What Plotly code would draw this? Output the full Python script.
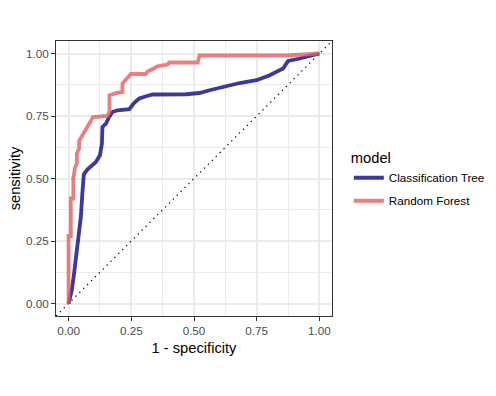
import plotly.graph_objects as go

# ---- data ----
ct_fpr = [0.0, 0.013, 0.022, 0.031, 0.039, 0.049, 0.055, 0.061, 0.075, 0.109, 0.125, 0.133,
          0.135, 0.149, 0.162, 0.175, 0.195, 0.242, 0.262, 0.282, 0.309, 0.335, 0.469, 0.522,
          0.562, 0.622, 0.682, 0.749, 0.802, 0.855, 0.866, 0.875, 0.922, 0.962, 0.989, 1.0]
ct_tpr = [0.0, 0.053, 0.12, 0.186, 0.266, 0.346, 0.44, 0.517, 0.536, 0.566, 0.593, 0.64,
          0.706, 0.72, 0.746, 0.766, 0.773, 0.777, 0.803, 0.82, 0.829, 0.836, 0.837, 0.842,
          0.853, 0.869, 0.882, 0.893, 0.913, 0.94, 0.96, 0.97, 0.98, 0.989, 0.997, 1.0]

rf_fpr = [0.0, 0.0, 0.009, 0.009, 0.019, 0.019, 0.025, 0.033, 0.033, 0.042, 0.042, 0.053,
          0.062, 0.071, 0.082, 0.091, 0.098, 0.155, 0.163, 0.163, 0.189, 0.215, 0.215, 0.226,
          0.242, 0.249, 0.306, 0.315, 0.335, 0.355, 0.395, 0.402, 0.515, 0.522, 0.875, 0.92,
          0.96, 0.99, 1.0]
rf_tpr = [0.0, 0.27, 0.27, 0.42, 0.42, 0.5, 0.54, 0.56, 0.6, 0.62, 0.65, 0.67,
          0.687, 0.704, 0.717, 0.736, 0.746, 0.75, 0.766, 0.833, 0.842, 0.846, 0.88, 0.893,
          0.909, 0.918, 0.918, 0.928, 0.938, 0.949, 0.956, 0.964, 0.964, 0.992, 0.992, 0.994,
          0.996, 1.0, 1.0]

diag = [-0.05, 1.05]
tick_vals = [0, 0.25, 0.5, 0.75, 1.0]
tick_text = ["0.00", "0.25", "0.50", "0.75", "1.00"]

FONT = "Liberation Sans, Arial, sans-serif"

fig = go.Figure()
fig.add_trace(go.Scatter(x=diag, y=diag, mode="lines", showlegend=False, hoverinfo="skip",
                         line=dict(color="black", width=1.2, dash="1.3px,4.2px")))
fig.add_trace(go.Scatter(x=ct_fpr, y=ct_tpr, mode="lines", name="Classification Tree",
                         legendgroup="ct",
                         line=dict(color="rgba(10,8,130,0.8)", width=3.8)))
fig.add_trace(go.Scatter(x=rf_fpr, y=rf_tpr, mode="lines", name="Random Forest",
                         legendgroup="rf",
                         line=dict(color="rgba(226,96,96,0.8)", width=3.8)))

axis_common = dict(
    range=[-0.05, 1.05], tickvals=tick_vals, ticktext=tick_text,
    showgrid=True, gridcolor="#EBEBEB", gridwidth=1.6,
    minor=dict(dtick=0.125, tick0=0.125, showgrid=True, gridcolor="#EBEBEB", gridwidth=0.9, ticks=""),
    zeroline=False, showline=True, mirror=True, linecolor="#333333", linewidth=1.3,
    ticks="outside", ticklen=3.7, tickwidth=1.1, tickcolor="#333333",
    tickfont=dict(family=FONT, size=11.7, color="#4D4D4D"),
)

fig.update_layout(
    width=496, height=396,
    margin=dict(l=56, r=164, t=41, b=80, autoexpand=False),
    paper_bgcolor="white", plot_bgcolor="white",
    font=dict(family=FONT, color="black"),
    xaxis=dict(**axis_common, title=dict(text="1 - specificity", font=dict(family=FONT, size=14.7, color="black"), standoff=6)),
    yaxis=dict(**axis_common, title=dict(text="sensitivity", font=dict(family=FONT, size=14.7, color="black"), standoff=1)),
    legend=dict(
        title=dict(text="model", font=dict(family=FONT, size=14.7, color="black")),
        font=dict(family=FONT, size=11.7, color="black"),
        x=1.061, xanchor="left", y=0.494, yanchor="middle",
        tracegroupgap=4, traceorder="grouped",
        bgcolor="rgba(0,0,0,0)", borderwidth=0,
    ),
    showlegend=True,
)

fig.write_html("out.html", config={"displayModeBar": False},
               post_script="document.body.style.margin='0px';")
